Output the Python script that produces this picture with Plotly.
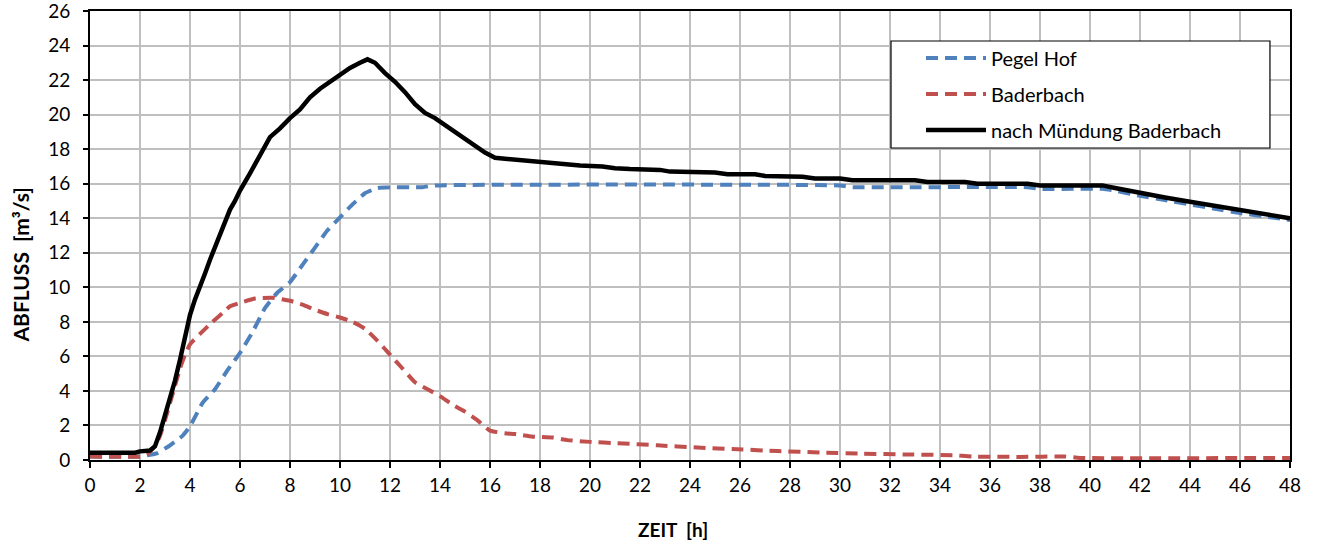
import plotly.graph_objects as go

# ---- data ----
t_pegel = [0, 2.0, 2.4, 2.7, 3.2, 3.7, 4.0, 4.5, 5.0, 5.5, 6.0, 6.5, 7.0, 7.5, 8.0, 8.5, 9.0,
           9.5, 10.0, 10.5, 11.0, 11.5, 12.0, 13.3, 13.8, 30.0, 30.5, 37.5, 38.0, 40.5, 41.0,
           42.0, 43.0, 44.0, 45.0, 46.0, 47.0, 48.0]
q_pegel = [0.2, 0.2, 0.3, 0.4, 0.85, 1.4, 1.95, 3.3, 4.1, 5.2, 6.2, 7.4, 8.8, 9.7, 10.3, 11.3, 12.3,
           13.3, 14.05, 14.8, 15.45, 15.75, 15.8, 15.8, 15.9, 15.9, 15.8, 15.8, 15.7, 15.7, 15.6,
           15.3, 15.05, 14.8, 14.55, 14.3, 14.1, 13.9]

t_bader = [0, 2.0, 2.3, 2.6, 2.8, 3.0, 3.2, 3.4, 3.6, 3.8, 4.0, 4.4, 4.9, 5.3, 5.6, 6.0, 6.6, 7.3,
           8.0, 8.5, 9.0, 9.5, 10.0, 10.5, 11.0, 11.5, 12.0, 12.5, 13.0, 13.5, 14.0, 14.5, 15.0,
           15.5, 16.0, 16.6, 17.0, 17.7, 18.5, 19.1, 20.0, 21.1, 22.7, 24.3, 25.9, 27.5, 29.3,
           30.9, 32.7, 34.5, 35.3, 37.2, 39.0, 39.6, 48.0]
q_bader = [0.2, 0.2, 0.35, 0.8, 1.4, 2.3, 3.3, 4.3, 5.3, 6.1, 6.7, 7.3, 8.0, 8.5, 8.9, 9.1, 9.35, 9.4,
           9.22, 9.0, 8.7, 8.45, 8.25, 8.0, 7.6, 6.9, 6.1, 5.3, 4.5, 4.1, 3.7, 3.2, 2.8,
           2.3, 1.7, 1.55, 1.5, 1.35, 1.3, 1.15, 1.05, 0.97, 0.85, 0.72, 0.62, 0.52, 0.43,
           0.37, 0.32, 0.28, 0.2, 0.18, 0.2, 0.12, 0.12]

t_muend = [0, 1.8, 2.0, 2.4, 2.6, 2.8, 3.0, 3.2, 3.4, 3.6, 3.8, 4.0, 4.2, 4.4, 4.6, 4.8, 5.0, 5.2,
           5.4, 5.6, 5.8, 6.0, 6.4, 6.8, 7.2, 7.6, 8.0, 8.4, 8.8, 9.2, 9.6, 10.0, 10.4, 10.8, 11.1,
           11.4, 11.8, 12.2, 12.6, 13.0, 13.4, 13.8, 14.2, 14.6, 15.0, 15.4, 15.8, 16.2, 16.6,
           17.0, 17.5, 18.0, 19.0, 19.6, 20.5, 21.0, 21.6, 22.8, 23.2, 25.0, 25.5, 26.6, 27.0,
           28.5, 29.0, 30.0, 30.5, 33.0, 33.5, 35.0, 35.5, 37.5, 38.0, 40.5, 41.0, 42.0, 43.0,
           44.0, 45.0, 46.0, 47.0, 48.0]
q_muend = [0.42, 0.42, 0.5, 0.55, 0.8, 1.6, 2.6, 3.5, 4.6, 5.8, 7.0, 8.4, 9.3, 10.0, 10.8, 11.6, 12.3, 13.1,
           13.8, 14.5, 15.0, 15.6, 16.6, 17.7, 18.7, 19.2, 19.8, 20.3, 21.0, 21.5, 21.9, 22.3, 22.7, 23.0, 23.2,
           23.0, 22.4, 21.9, 21.3, 20.6, 20.1, 19.8, 19.4, 19.0, 18.6, 18.2, 17.8, 17.5, 17.45,
           17.4, 17.3, 17.25, 17.15, 17.05, 17.0, 16.9, 16.85, 16.8, 16.7, 16.65, 16.55, 16.55, 16.45,
           16.4, 16.3, 16.3, 16.2, 16.2, 16.1, 16.1, 16.0, 16.0, 15.9, 15.9, 15.75, 15.45, 15.2,
           14.95, 14.7, 14.45, 14.25, 14.0]

series_names = ["Pegel Hof", "Baderbach", "nach Mündung Baderbach"]
x_ticks = list(range(0, 49, 2))
y_ticks = list(range(0, 27, 2))
x_title = "ZEIT\u00a0\u00a0[h]"
y_title = "ABFLUSS\u00a0\u00a0[m³/s]"

FONT = "Lato, 'Liberation Sans', sans-serif"

fig = go.Figure()
fig.add_trace(go.Scatter(x=t_pegel, y=q_pegel, mode="lines", name=series_names[0],
                         legendgroup="a",
                         line=dict(color="#4F81BD", width=4, dash="12px,7px", shape="spline", smoothing=0.4)))
fig.add_trace(go.Scatter(x=t_bader, y=q_bader, mode="lines", name=series_names[1],
                         legendgroup="b",
                         line=dict(color="#C0504D", width=4, dash="12px,7px", shape="spline", smoothing=0.4)))
fig.add_trace(go.Scatter(x=t_muend, y=q_muend, mode="lines", name=series_names[2],
                         legendgroup="c",
                         line=dict(color="#000000", width=4.5)))

# legend frame (white box with black border)
fig.add_shape(type="rect", xref="paper", yref="paper",
              x0=0.6675, x1=0.9833, y0=0.6949, y1=0.9332,
              line=dict(color="#000000", width=1.2), fillcolor="white", layer="above")

# axis titles
fig.add_annotation(text="<b>" + x_title + "</b>", xref="paper", yref="paper",
                   x=0.4858, y=-0.1537, xanchor="center", yanchor="middle",
                   showarrow=False, font=dict(size=19, family=FONT, color="#000000"))
fig.add_annotation(text="<b>" + y_title + "</b>", xref="paper", yref="paper",
                   x=-0.0579, y=0.4343, xanchor="center", yanchor="middle", textangle=-90,
                   showarrow=False, font=dict(size=21, family=FONT, color="#000000"))

fig.update_layout(
    width=1319, height=544,
    margin=dict(l=90, r=29, t=11, b=84),
    paper_bgcolor="white", plot_bgcolor="white",
    font=dict(family=FONT, size=19, color="#000000"),
    legend=dict(x=0.6925, y=0.939, xanchor="left", yanchor="top",
                borderwidth=0, bgcolor="rgba(0,0,0,0)",
                font=dict(size=20), traceorder="grouped", tracegroupgap=7,
                itemwidth=60),
    showlegend=True,
)
fig.update_xaxes(
    range=[0, 48], tickmode="array", tickvals=x_ticks, ticktext=[str(v) for v in x_ticks],
    showgrid=True, gridcolor="#BFBFBF", gridwidth=1.5,
    showline=True, linecolor="#000000", linewidth=2, mirror=True,
    ticks="outside", ticklen=6, tickcolor="#000000", tickwidth=1.5,
    ticklabelstandoff=1, ticklabeloverflow="allow",
    zeroline=False, automargin=False,
    tickfont=dict(size=19),
)
fig.update_yaxes(
    range=[0, 26], tickmode="array", tickvals=y_ticks, ticktext=[str(v) for v in y_ticks],
    showgrid=True, gridcolor="#BFBFBF", gridwidth=1.5,
    showline=True, linecolor="#000000", linewidth=2, mirror=True,
    ticks="outside", ticklen=5, tickcolor="#000000", tickwidth=1.5,
    ticklabelstandoff=9, ticklabeloverflow="allow",
    zeroline=False, automargin=False,
    tickfont=dict(size=19),
)

# remove the browser's default page margin so the 1319x544 figure fills the window exactly
fig.write_html("out.html", config={"displayModeBar": False},
               post_script="document.body.style.margin='0px';")
